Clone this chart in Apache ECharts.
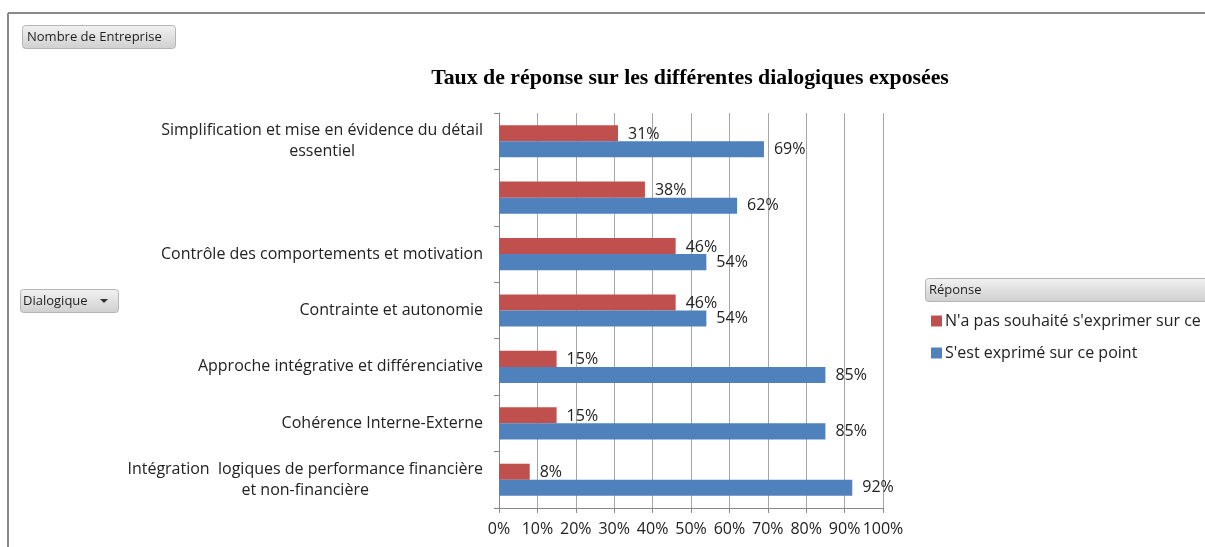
<!DOCTYPE html>
<html>
<head>
<meta charset="utf-8">
<script src="https://cdn.jsdelivr.net/npm/echarts@6/dist/echarts.min.js"></script>
<style>
  html, body { margin: 0; padding: 0; background: #fff; }
  #chart { width: 1205px; height: 547px; }
</style>
</head>
<body>
<div id="chart"></div>
<script>
// Dialogues listed top to bottom (the second one has no label)
const categories = [
  ['Simplification et mise en évidence du détail', 'essentiel'],
  [''],
  ['Contrôle des comportements et motivation'],
  ['Contrainte et autonomie'],
  ['Approche intégrative et différenciative'],
  ['Cohérence Interne-Externe'],
  ['Intégration  logiques de performance financière', 'et non-financière']
];
const seriesNames = [
  "N'a pas souhaité s'exprimer sur ce point",
  "S'est exprimé sur ce point"
];
const noAnswer = [31, 38, 46, 46, 15, 15, 8];
const answered = [69, 62, 54, 54, 85, 85, 92];
const xTicks = { min: 0, max: 100, interval: 10 };

const FONT = '"Open Sans", Lato, sans-serif';
const FS = 16;
const RED = '#C0504D';
const BLUE = '#4F81BD';

const btnFill = new echarts.graphic.LinearGradient(0, 0, 0, 1, [
  { offset: 0, color: '#f2f2f2' },
  { offset: 1, color: '#cfcfcf' }
]);

const chart = echarts.init(document.getElementById('chart'), null, { renderer: 'canvas' });

chart.setOption({
  animation: false,
  textStyle: { fontFamily: FONT },
  title: {
    text: 'Taux de réponse sur les différentes dialogiques exposées',
    left: 685, top: 62, textAlign: 'center',
    textStyle: { fontFamily: '"Liberation Serif", "DejaVu Serif", serif', fontWeight: 'bold', fontSize: 21.8, color: '#000' }
  },
  legend: {
    orient: 'vertical',
    left: 931, top: 313, padding: 0,
    itemWidth: 11, itemHeight: 11, itemGap: 16,
    icon: 'rect',
    data: seriesNames,
    textStyle: { fontFamily: FONT, fontSize: FS, color: '#222', padding: [0, 0, 0, -2] }
  },
  grid: { left: 499, right: 322, top: 113, bottom: 39, containLabel: false },
  xAxis: {
    type: 'value',
    min: xTicks.min, max: xTicks.max, interval: xTicks.interval,
    axisLine: { show: true, lineStyle: { color: '#888', width: 1 } },
    axisTick: { show: true, length: 5, lineStyle: { color: '#888' } },
    splitLine: { show: true, lineStyle: { color: '#a6a6a6', width: 1 } },
    axisLabel: { formatter: '{value}%', fontSize: FS, color: '#222', margin: 13, fontFamily: FONT }
  },
  yAxis: {
    type: 'category',
    inverse: true,
    data: categories.map(c => c.join('\n')),
    axisLine: { show: true, lineStyle: { color: '#888', width: 1 } },
    axisTick: { show: true, length: 5, interval: 0, lineStyle: { color: '#888' } },
    axisLabel: {
      interval: 0,
      margin: 16,
      fontSize: FS,
      color: '#222',
      lineHeight: 21,
      formatter: function (value) {
        return value.split('\n').map(l => '{t|' + l + '}').join('\n');
      },
      rich: { t: { align: 'center', fontSize: FS, fontFamily: FONT, color: '#222', lineHeight: 21 } }
    }
  },
  series: [
    {
      name: seriesNames[0], type: 'bar', data: noAnswer,
      barGap: '0%', barCategoryGap: '43%',
      itemStyle: { color: RED },
      label: { show: true, position: 'right', distance: 10, formatter: '{c}%', fontSize: FS, color: '#222', fontFamily: FONT, offset: [0, 1] }
    },
    {
      name: seriesNames[1], type: 'bar', data: answered,
      barGap: '0%', barCategoryGap: '43%',
      itemStyle: { color: BLUE },
      label: { show: true, position: 'right', distance: 10, formatter: '{c}%', fontSize: FS, color: '#222', fontFamily: FONT }
    }
  ],
  graphic: [
    // frame
    { type: 'line', shape: { x1: 8, y1: 13, x2: 1205, y2: 13 }, style: { stroke: '#8a8a8a', lineWidth: 2 } },
    { type: 'line', shape: { x1: 8, y1: 13, x2: 8, y2: 547 }, style: { stroke: '#8a8a8a', lineWidth: 2 } },
    // field buttons
    { type: 'rect', shape: { x: 22.5, y: 25.5, width: 153, height: 23, r: 3 }, style: { fill: btnFill, stroke: '#b5b5b5', lineWidth: 1 } },
    { type: 'text', x: 27, y: 37, style: { text: 'Nombre de Entreprise', font: '13px ' + FONT, fill: '#1f1f1f', verticalAlign: 'middle' } },
    { type: 'rect', shape: { x: 20.5, y: 289.5, width: 98, height: 23, r: 3 }, style: { fill: btnFill, stroke: '#b5b5b5', lineWidth: 1 } },
    { type: 'text', x: 23, y: 301, style: { text: 'Dialogique', font: '13px ' + FONT, fill: '#1f1f1f', verticalAlign: 'middle' } },
    { type: 'polygon', shape: { points: [[100, 299], [108, 299], [104, 303]] }, style: { fill: '#333' } },
    { type: 'rect', shape: { x: 925.5, y: 278.5, width: 290, height: 23, r: 3 }, style: { fill: btnFill, stroke: '#b5b5b5', lineWidth: 1 } },
    { type: 'text', x: 929, y: 290, style: { text: 'Réponse', font: '13px ' + FONT, fill: '#1f1f1f', verticalAlign: 'middle' } }
  ]
});
</script>
</body>
</html>
